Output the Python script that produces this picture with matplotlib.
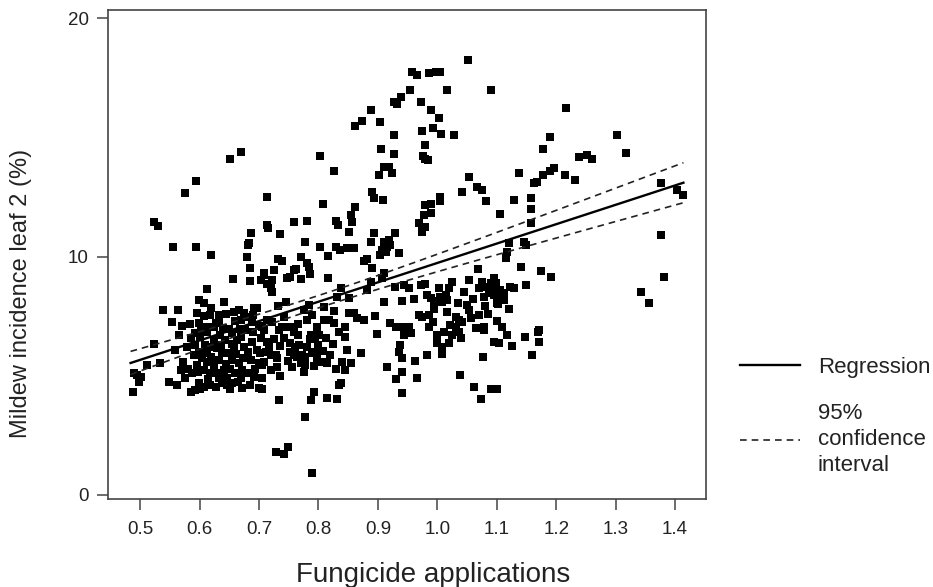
import numpy as np
import matplotlib
matplotlib.use('Agg')
import matplotlib.pyplot as plt
from matplotlib.lines import Line2D

plt.rcParams['font.family'] = ['Liberation Sans', 'DejaVu Sans']

# fungicide applications (x) and mildew incidence on leaf 2, % (y)
pts = [
    (0.489,5.1),(0.501,4.96),(0.498,4.75),(0.488,4.33),(0.495,5.05),(0.512,5.45),(0.534,5.52),(0.523,6.33),
    (0.523,11.46),(0.53,11.29),(0.539,7.76),(0.548,4.75),(0.562,4.61),(0.565,6.71),(0.559,6.08),(0.573,5.59),
    (0.568,5.24),(0.555,10.41),(0.553,7.27),(0.563,7.76),(0.571,7.09),(0.584,7.17),(0.576,12.68),(0.594,13.15),
    (0.579,6.22),(0.585,6.57),(0.593,6.78),(0.601,6.64),(0.613,6.85),(0.59,5.87),(0.599,6.01),(0.604,5.73),
    (0.613,5.94),(0.596,5.45),(0.607,5.24),(0.613,5.59),(0.618,5.1),(0.585,4.33),(0.593,4.4),(0.607,4.54),
    (0.599,4.68),(0.594,10.41),(0.599,8.18),(0.608,8.06),(0.595,7.62),(0.599,7.22),(0.613,7.06),(0.624,7.06),
    (0.618,7.55),(0.632,7.55),(0.632,7.34),(0.613,8.64),(0.619,10.06),
    (0.624,6.5),(0.635,6.71),(0.643,6.5),(0.629,6.15),(0.638,5.94),(0.624,5.45),(0.629,5.1),(0.641,5.24),
    (0.646,4.89),(0.618,4.61),(0.627,4.54),(0.638,4.68),(0.646,4.61),(0.641,8.08),(0.652,14.07),(0.67,14.4),
    (0.655,6.78),(0.663,6.5),(0.658,6.15),(0.669,6.64),(0.674,6.22),(0.655,5.66),(0.666,5.52),(0.672,5.24),
    (0.66,5.1),(0.669,4.89),(0.655,4.68),(0.672,4.47),(0.658,7.69),(0.666,7.76),(0.674,7.62),(0.657,9.04),
    (0.686,10.97),(0.683,10.55),(0.681,10.48),(0.679,9.96),(0.685,9.5),(0.685,8.98),(0.691,7.83),
    (0.689,6.43),(0.686,5.66),(0.692,4.96),(0.669,7.34),(0.68,7.48),(0.688,7.27),(0.697,7.83),
    (0.575,4.9),(0.58,5.3),(0.588,5.1),(0.592,6.3),(0.603,6.95),(0.61,6.3),(0.615,4.85),(0.62,5.8),
    (0.622,6.2),(0.628,7.2),(0.633,5.65),(0.636,6.3),(0.64,7.0),(0.645,5.5),(0.65,6.95),(0.652,5.3),
    (0.655,6.35),(0.66,7.3),(0.662,5.9),(0.665,4.75),(0.668,6.95),(0.673,5.75),(0.677,6.9),(0.68,5.1),
    (0.682,6.0),(0.685,4.6),(0.69,6.85),(0.694,5.3),(0.697,6.1),(0.7,7.1),(0.703,6.6),(0.648,5.95),
    (0.632,4.9),(0.598,5.15),(0.607,7.5),(0.62,7.85),(0.645,7.6),(0.651,4.45),(0.69,7.55),(0.6,4.45),
    (0.714,12.5),(0.89,12.72),(0.893,12.44),(0.909,12.37),(0.808,12.2),(0.862,12.09),(0.854,11.74),(0.857,11.46),
    (0.713,11.32),(0.715,11.18),(0.759,11.46),(0.781,11.5),(0.829,11.5),(0.833,11.32),(0.851,11.04),(0.736,10.94),
    (0.893,11.0),(0.928,10.97),(0.778,10.62),(0.888,10.62),(0.91,10.62),(0.918,10.69),(0.921,10.48),(0.916,10.41),
    (0.907,10.27),(0.903,10.06),(0.913,10.2),(0.935,10.16),(0.803,10.38),(0.83,10.41),(0.837,10.27),(0.848,10.34),
    (0.86,10.34),(0.816,10.02),(0.732,9.9),(0.739,9.82),(0.77,9.96),(0.781,9.74),(0.784,9.54),(0.876,9.82),
    (0.882,9.91),(0.89,9.5),(0.708,9.32),(0.725,9.43),(0.759,9.43),(0.763,9.46),(0.786,9.27),(0.753,9.15),
    (0.747,9.12),(0.77,9.04),(0.704,9.01),(0.708,9.22),(0.722,9.01),(0.714,8.85),(0.72,8.67),(0.722,8.52),
    (0.91,9.3),(0.907,9.08),(0.816,9.08),(0.888,8.94),(0.928,8.71),(0.944,8.81),(0.838,8.67),(0.882,8.6),
    (0.831,8.29),(0.851,8.25),(0.746,8.1),(0.732,7.93),(0.784,7.97),(0.809,7.87),(0.91,8.08),(0.941,8.15),
    (0.775,7.76),(0.826,7.73),(0.851,7.62),(0.86,7.62),(0.865,7.41),(0.876,7.34),(0.896,7.5),(0.714,7.34),
    (0.722,7.27),(0.781,7.34),(0.798,7.06),(0.809,7.34),(0.817,7.34),(0.826,7.2),(0.921,7.2),(0.93,7.06),
    (0.944,7.06),(0.739,7.06),(0.753,7.06),(0.845,7.06),(0.705,7.06),
    (0.939,16.7),(0.932,16.4),(0.927,16.5),(0.888,16.15),(0.874,15.7),(0.862,15.47),(0.904,15.65),(0.927,15.1),
    (0.906,14.5),(0.927,14.3),(0.803,14.2),(0.826,13.6),(0.902,13.4),(0.91,13.75),(0.919,13.75),(0.924,13.5),
    (1.052,18.24),(0.958,17.75),(0.966,17.6),(0.986,17.7),(0.997,17.75),(1.005,17.75),(0.954,17.0),(1.017,17.0),
    (1.091,17.0),(0.972,16.5),(0.989,16.15),(1.003,15.8),(0.975,15.26),(0.993,15.4),(1.007,15.16),(1.028,15.1),
    (0.979,14.67),(0.976,14.2),(0.979,14.1),(0.985,14.05),(1.053,13.35),(1.137,13.5),(1.177,13.4),(1.19,13.6),
    (1.196,13.7),(1.178,14.5),(1.19,15.0),
    (1.217,16.24),(1.303,15.1),(1.317,14.35),(1.238,14.18),(1.252,14.25),(1.261,14.1),(1.214,13.4),(1.232,13.2),
    (1.376,13.07),(1.404,12.8),(1.414,12.6),(1.377,10.9),(1.381,9.15),(1.342,8.5),(1.356,8.06),
    (1.067,12.93),(1.076,12.79),(1.042,12.72),(1.163,13.07),(1.168,13.14),(1.005,12.51),(1.004,12.34),(1.082,12.34),
    (1.129,12.37),(1.157,12.44),(1.157,11.98),(0.98,12.16),(0.989,12.2),(0.977,11.74),(0.989,11.81),(1.106,11.78),
    (0.969,11.42),(0.975,11.25),(0.98,11.22),(0.975,11.04),(1.157,11.39),(1.12,10.58),(1.146,10.62),(1.149,10.48),
    (1.117,10.2),(1.115,9.92),(1.068,9.46),(1.14,9.54),(1.175,9.4),(1.192,9.15),(1.053,9.01),(1.025,8.94),
    (0.972,8.81),(0.98,8.85),(0.952,8.67),(1.003,8.67),(1.076,8.94),(1.081,8.73),(1.09,8.88),(1.095,9.08),
    (1.098,8.88),(1.093,8.6),(1.087,8.46),(1.07,8.67),(1.079,8.32),(1.096,8.39),(1.106,8.6),(1.112,8.46),
    (1.109,8.32),(1.123,8.73),(1.129,8.67),(1.101,8.04),(1.112,8.18),(1.149,8.81),(0.983,8.39),(0.989,8.25),
    (0.995,8.15),(1.005,8.32),(1.014,8.39),(1.016,8.18),(1.008,8.1),(1.034,8.04),(1.05,7.97),(1.053,7.76),
    (1.081,7.93),(1.102,8.01),(1.016,7.69),(0.969,7.55),(0.975,7.48),(0.986,7.55),(0.992,7.27),(1.031,7.48),
    (1.036,7.34),(1.042,7.27),(1.056,7.41),(1.07,7.55),(1.022,7.13),(1.031,7.06),(1.078,7.06),(1.109,7.06),
    (1.171,6.92),(0.952,7.06),(0.986,7.06),
    (1.045,8.5),(1.06,8.2),(1.065,7.0),(1.085,7.6),(1.1,7.3),(1.12,7.8),(1.04,6.6),(0.96,8.2),
    (0.995,7.8),(1.02,8.7),
    (0.787,6.71),(0.795,6.64),(0.801,6.71),(0.845,6.64),(0.899,6.75),(0.944,6.71),(0.714,6.43),(0.717,6.22),
    (0.753,6.36),(0.761,6.22),(0.767,6.29),(0.702,5.94),(0.711,6.01),(0.72,5.87),(0.728,5.87),(0.731,5.73),
    (0.753,6.01),(0.759,5.87),(0.764,5.8),(0.773,5.87),(0.778,5.8),(0.789,5.94),(0.795,6.01),(0.798,5.73),
    (0.806,5.59),(0.815,5.52),(0.848,6.08),(0.871,5.94),(0.84,5.59),(0.854,5.52),(0.845,5.24),(0.778,5.45),
    (0.775,5.17),(0.7,5.52),(0.705,5.45),(0.708,5.59),(0.736,4.99),(0.705,4.89),(0.7,4.47),(0.705,4.43),
    (0.834,4.61),(0.838,4.68),(0.792,4.33),(0.788,3.98),(0.815,4.05),(0.832,4.01),(0.733,3.98),(0.778,3.26),
    (0.728,1.82),(0.742,1.72),(0.749,2.0),(0.79,0.94),(0.916,5.38),(0.935,6.01),(0.941,5.73),(0.938,6.29),
    (0.941,5.17),(0.931,4.85),(0.941,4.29),(0.708,6.92),(0.733,6.92),(0.759,6.85),
    (0.725,6.55),(0.735,6.25),(0.742,6.6),(0.748,5.6),(0.755,5.35),(0.765,6.7),(0.77,5.55),(0.78,6.2),
    (0.785,6.55),(0.792,5.4),(0.8,6.3),(0.808,6.05),(0.812,6.6),(0.82,5.85),(0.825,6.35),(0.83,5.3),
    (0.835,6.85),(0.742,7.45),(0.765,7.15),(0.79,7.55),(0.72,5.25),(0.73,5.35),
    (0.955,6.78),(1.0,6.71),(1.011,6.85),(1.025,6.71),(1.036,6.85),(0.999,6.36),(1.008,6.22),(1.02,6.36),
    (1.008,5.91),(0.983,5.87),(0.963,5.63),(0.966,4.92),(1.077,5.77),(1.038,5.03),(1.062,4.52),(1.09,4.44),
    (1.101,4.44),(1.074,4.03),(1.095,6.43),(1.104,6.39),(1.117,6.71),(1.125,6.25),(1.147,6.61),(1.17,6.85),
    (1.171,6.43),(1.16,5.87),(1.078,6.92),
]
fung = np.array([p[0] for p in pts])
mildew = np.array([p[1] for p in pts])

# regression line and 95% band as drawn in the figure
reg_icpt = 1.60
reg_slope = 8.13
ci_center = 0.80   # x where the band is narrowest
ci_min = 0.26      # half width there
ci_spread = 1.30   # growth of half width away from centre

xticks = [0.5, 0.6, 0.7, 0.8, 0.9, 1.0, 1.1, 1.2, 1.3, 1.4]
yticks = [0, 10, 20]

xs = np.linspace(fung.min() - 0.004, fung.max(), 100)
fit = reg_icpt + reg_slope * xs
half = np.sqrt(ci_min**2 + (ci_spread * (xs - ci_center))**2)

fig = plt.figure(figsize=(9.33, 5.87), dpi=100)
ax = fig.add_axes([108/933, 1 - 499/587, 598/933, 489/587])

ax.scatter(fung, mildew, marker='s', s=27, color='black', linewidths=0, zorder=3)
ax.plot(xs, fit, color='black', lw=1.7, zorder=4)
ax.plot(xs, fit + half, color='#222222', lw=1.2, ls=(0, (4, 3)), zorder=4)
ax.plot(xs, fit - half, color='#222222', lw=1.2, ls=(0, (4, 3)), zorder=4)

ax.set_xlim(0.446, 1.452)
ax.set_ylim(-0.17, 20.34)
ax.set_xticks(xticks)
ax.set_xticklabels([f'{t:.1f}' for t in xticks])
ax.set_yticks(yticks)
for sp in ax.spines.values():
    sp.set_color('#444444')
    sp.set_linewidth(1.2)
ax.tick_params(axis='both', direction='out', length=8, width=1.1, color='#444444',
               labelsize=13.5, labelcolor='#222222')
ax.tick_params(axis='x', pad=8)
ax.tick_params(axis='y', pad=6)

ax.set_xlabel('Fungicide applications', fontsize=20, color='#222222')
ax.set_ylabel('Mildew incidence leaf 2 (%)', fontsize=17, color='#222222')
ax.xaxis.set_label_coords(0.543, -0.128)
ax.yaxis.set_label_coords(-0.127, 0.42)

handles = [Line2D([], [], color='black', lw=1.7),
           Line2D([], [], color='#222222', lw=1.2, ls=(0, (4, 3)))]
leg = fig.legend(handles, ['Regression', '95%\nconfidence\ninterval'], loc='upper left',
                 bbox_to_anchor=(740/933, 1 - 357/587), frameon=False, fontsize=16,
                 handlelength=2.7, handletextpad=0.8, labelspacing=1.12,
                 borderpad=0, borderaxespad=0, labelcolor='#222222')
leg.get_texts()[1].set_linespacing(1.32)

fig.savefig('out.png', dpi=100)
